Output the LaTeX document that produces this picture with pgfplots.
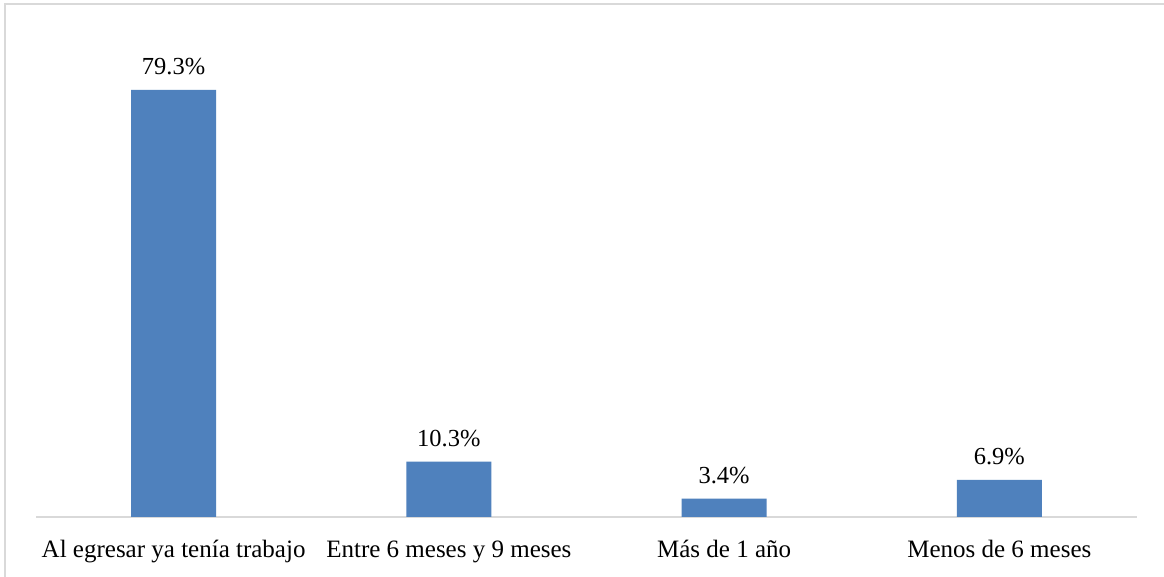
\documentclass[border=0pt]{standalone}
\usepackage{pgfplots}
\pgfplotsset{compat=1.18}
\usepackage{fontspec}
\setmainfont{Liberation Serif}
\definecolor{barblue}{HTML}{4F81BD}
\definecolor{bordergray}{HTML}{D9D9D9}
\begin{document}
\begin{tikzpicture}
\path[use as bounding box] (0pt,0pt) rectangle (1164pt,577pt);
\fill[white] (0pt,0pt) rectangle (1164pt,577pt);
\draw[bordergray, line width=2pt] (5pt,-5pt) -- (5pt,573pt) -- (1170pt,573pt);
\begin{axis}[
  at={(36pt,60pt)}, anchor=south west,
  scale only axis,
  width=1101pt, height=484.65pt,
  xmin=-0.5, xmax=3.5,
  ymin=0, ymax=90,
  axis y line=none,
  axis x line*=bottom,
  x axis line style={draw=bordergray, line width=1.5pt, -},
  xtick={0,1,2,3},
  xticklabels={Al egresar ya tenía trabajo, Entre 6 meses y 9 meses, Más de 1 año, Menos de 6 meses},
  major tick length=0pt,
  xticklabel style={anchor=base, yshift=-41pt, font=\fontsize{25pt}{30pt}\selectfont},
  ybar, bar width=85pt, bar shift=0pt,
  nodes near coords={\pgfmathprintnumber[fixed,fixed zerofill,precision=1,assume math mode=true]{\pgfplotspointmeta}\%},
  every node near coord/.append style={anchor=base, yshift=15pt, font=\fontsize{24.5pt}{29pt}\selectfont, text=black},
  clip=false,
]
\addplot[fill=barblue, draw=none] coordinates {(0,79.3) (1,10.3) (2,3.4) (3,6.9)};
\end{axis}
\end{tikzpicture}
\end{document}
